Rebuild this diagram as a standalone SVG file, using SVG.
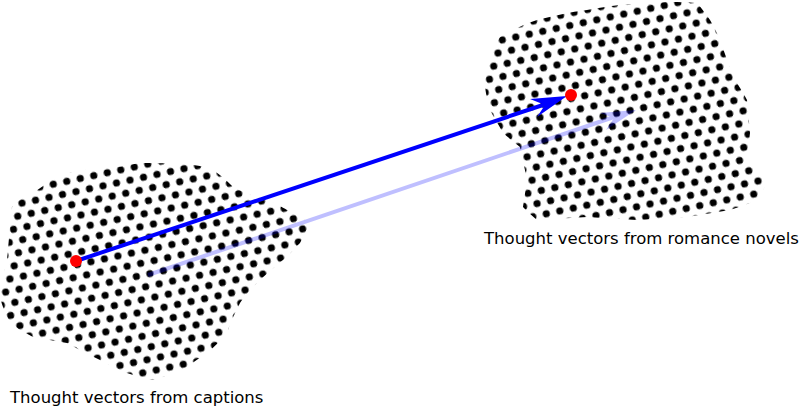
<svg xmlns="http://www.w3.org/2000/svg" width="800" height="408" viewBox="0 0 800 408">
<style>
.lbl{font-family:"DejaVu Sans",sans-serif;font-size:16.5px;fill:#000}
.vec{fill:none;stroke:#0000ff;stroke-width:4;stroke-linecap:butt}
.head{fill:#0000ff;stroke:none}
.faint{opacity:0.25}
.pt{fill:#ff0000}
.dots{fill:url(#hex)}
</style>
<defs>
<pattern id="hex" patternUnits="userSpaceOnUse" width="13.8" height="23.9" patternTransform="rotate(-12)">
<circle cx="0" cy="0" r="3.6" fill="#000"/>
<circle cx="13.8" cy="0" r="3.6" fill="#000"/>
<circle cx="6.9" cy="11.95" r="3.6" fill="#000"/>
<circle cx="0" cy="23.9" r="3.6" fill="#000"/>
<circle cx="13.8" cy="23.9" r="3.6" fill="#000"/>
</pattern>
</defs>
<g id="captions-cloud">
<path class="dots" d="M12,207 C20,198 28,195 33,193 C45,185 55,176 67,173 C85,170 100,167 117,167 C130,165 138,163 143,163 C160,163 180,164 193,165 C203,166 210,168 213,170 C222,176 228,182 233,187 C245,193 255,197 267,200 C276,204 282,207 287,210 C296,215 304,219 310,223 C307,230 303,237 300,243 C294,249 289,255 283,260 C275,267 267,273 260,280 C252,288 245,295 240,303 C235,313 230,323 227,333 C220,341 213,348 207,353 C200,358 193,362 187,367 C175,372 164,377 153,380 C144,378 135,376 127,373 C118,369 109,365 100,360 C89,355 78,349 67,343 C55,341 44,339 33,337 C25,333 17,328 10,323 C6,315 2,306 0,297 C2,285 4,272 7,260 C8,249 9,238 10,227 C10,220 11,213 12,207 Z"/>
</g>
<g id="novels-cloud">
<path class="dots" d="M487,67 C490,56 495,45 500,37 C512,30 525,24 537,20 C554,16 570,12 587,10 C598,8 609,6 620,5 C637,4 653,2 670,2 C679,2 688,2 697,3 C702,9 706,14 710,20 C714,27 717,33 720,40 C722,47 725,53 727,60 C729,66 731,71 733,77 C738,85 743,92 747,100 C748,111 749,122 750,133 C749,141 748,149 747,157 C750,163 753,168 757,173 C760,176 764,180 767,183 C764,189 760,194 757,200 C748,204 739,207 730,210 C716,212 701,215 687,217 C670,218 654,219 637,220 C620,219 604,218 587,217 C570,218 554,219 537,220 C532,216 527,211 523,207 C524,198 526,189 527,180 C525,169 522,158 520,147 C514,142 509,138 503,133 C499,125 494,118 490,110 C488,102 486,95 485,87 C485,80 486,73 487,67 Z"/>
</g>
<g id="connectors">
<g class="faint">
<path class="vec" d="M148,275 L614,117"/>
<path class="head" d="M636,110 L600,113 L614,118 L606,130 Z"/>
</g>
<path class="vec" d="M76,261 L546,104"/>
<path class="head" d="M567,96 L530,99 L545,105 L537,117 Z"/>
</g>
<g id="caption-point"><circle class="pt" cx="76" cy="261" r="6"/></g>
<g id="novel-point"><circle class="pt" cx="571" cy="95" r="6"/></g>
<g id="label-novels"><text class="lbl" x="484" y="244">Thought vectors from romance novels</text></g>
<g id="label-captions"><text class="lbl" x="10" y="403">Thought vectors from captions</text></g>
</svg>
